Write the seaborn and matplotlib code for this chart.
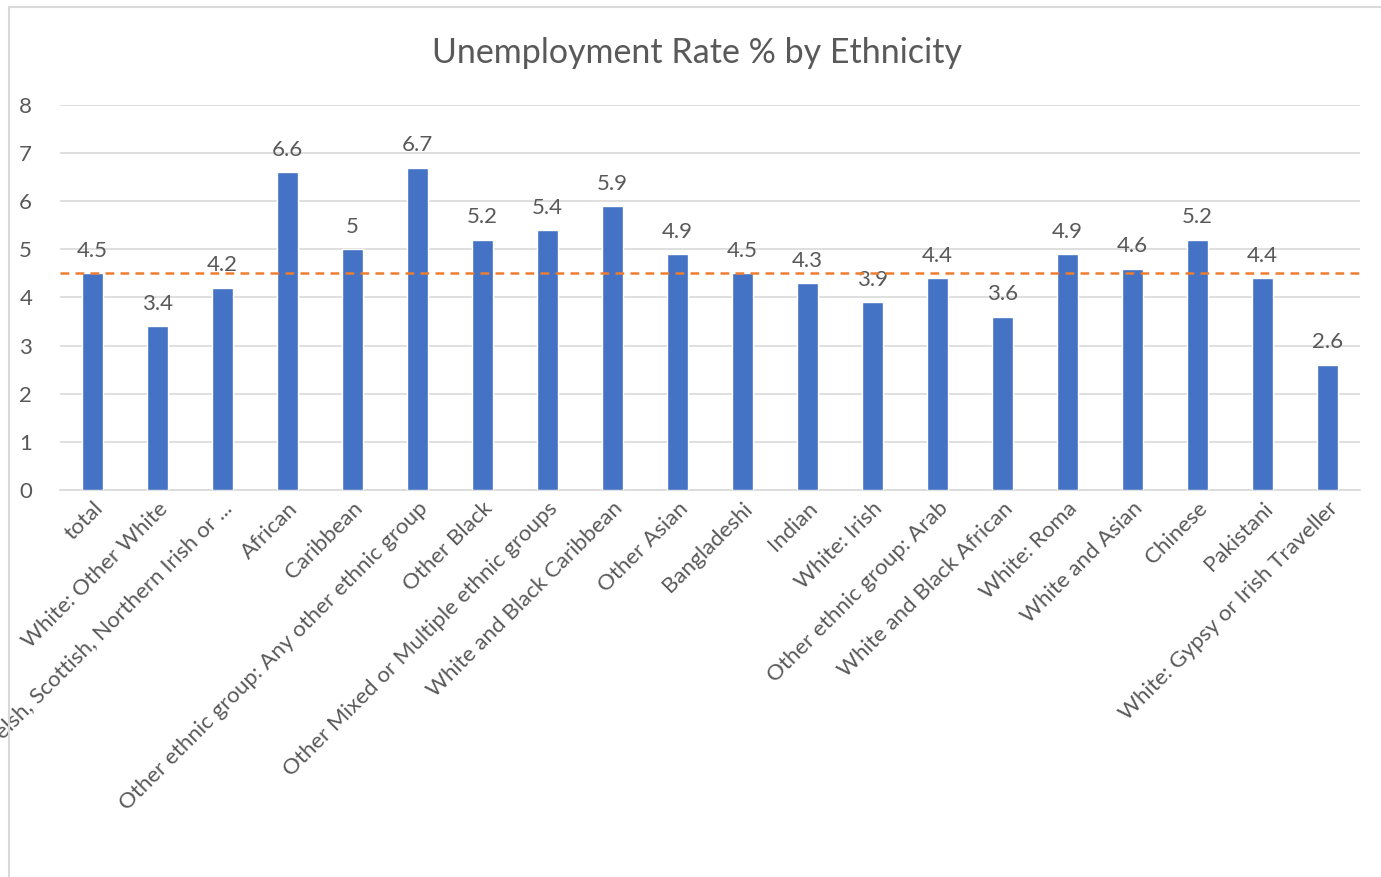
import matplotlib
matplotlib.use('Agg')
import matplotlib.pyplot as plt
import seaborn as sns
from matplotlib.patches import Rectangle

# Data
categories = [
    'total', 'White: Other White',
    'White: English, Welsh, Scottish, Northern Irish or ...',
    'African', 'Caribbean', 'Other ethnic group: Any other ethnic group',
    'Other Black', 'Other Mixed or Multiple ethnic groups',
    'White and Black Caribbean', 'Other Asian', 'Bangladeshi', 'Indian',
    'White: Irish', 'Other ethnic group: Arab', 'White and Black African',
    'White: Roma', 'White and Asian', 'Chinese', 'Pakistani',
    'White: Gypsy or Irish Traveller',
]
rates = [4.5, 3.4, 4.2, 6.6, 5, 6.7, 5.2, 5.4, 5.9, 4.9,
         4.5, 4.3, 3.9, 4.4, 3.6, 4.9, 4.6, 5.2, 4.4, 2.6]
total_rate = 4.5

text_col = '#595959'
grid_col = '#D9D9D9'

sns.set_style('white')
plt.rcParams['font.family'] = ['Lato', 'DejaVu Sans']

fig = plt.figure(figsize=(13.81, 8.77), dpi=100)
ax = fig.add_axes([0.0434, 0.4413, 0.9414, 0.439])

sns.barplot(x=categories, y=rates, color='#4472C4', width=0.32,
            saturation=1, ax=ax, zorder=3)
ax.axhline(total_rate, color='#ED7D31', linestyle=(0, (3.5, 2.5)),
           linewidth=1.8, zorder=4)

# Data labels
for i, v in enumerate(rates):
    ax.annotate(f'{v:g}', (i, v), xytext=(0, 9), textcoords='offset points',
                ha='center', va='bottom', fontsize=16, color=text_col)

ax.set_ylim(0, 8)
ax.set_xlim(-0.5, len(categories) - 0.5)
ax.set_yticks(range(0, 9))
ax.yaxis.grid(True, color=grid_col, linewidth=1.2, zorder=0)
ax.set_axisbelow(True)
for s in ['top', 'right', 'left']:
    ax.spines[s].set_visible(False)
ax.spines['bottom'].set_color(grid_col)
ax.spines['bottom'].set_linewidth(1.2)
ax.tick_params(axis='both', length=0, colors=text_col, labelsize=16)
ax.tick_params(axis='y', pad=20)
ax.set_xticks(range(len(categories)))
ax.set_xticklabels(categories, rotation=45, ha='right', va='top',
                   rotation_mode='anchor')
ax.tick_params(axis='x', pad=6)

fig.text(0.505, 0.940, 'Unemployment Rate % by Ethnicity', ha='center',
         va='center', fontsize=24.5, color=text_col)

# chart border
fig.patches.append(Rectangle((9 / 1381, -0.05), 1.1, 1 - 7 / 877 + 0.05,
                             transform=fig.transFigure, fill=False,
                             edgecolor=grid_col, linewidth=1.5))

fig.savefig('out.png', dpi=100)
